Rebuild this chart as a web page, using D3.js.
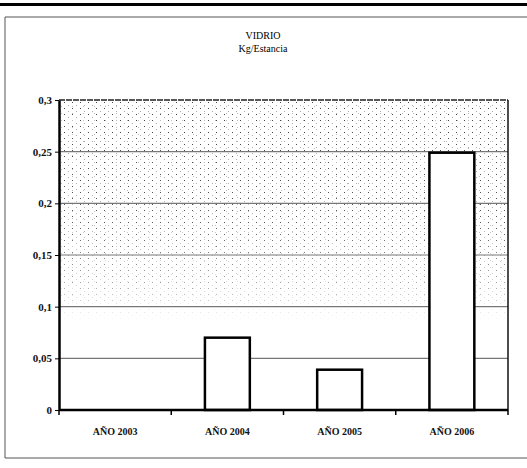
<!DOCTYPE html>
<html><head><meta charset="utf-8">
<script src="https://cdn.jsdelivr.net/npm/d3@7"></script>
<style>body{margin:0;background:#fff}svg{display:block}</style>
</head><body>
<script>
const categories = ["AÑO 2003","AÑO 2004","AÑO 2005","AÑO 2006"];
const values = [0, 0.07, 0.039, 0.249];
const yTicks = [0, 0.05, 0.1, 0.15, 0.2, 0.25, 0.3];
const yTickLabels = ["0","0,05","0,1","0,15","0,2","0,25","0,3"];
const titleLines = ["VIDRIO","Kg/Estancia"];

const W = 527, H = 468;
const m = {left:59, right:19, top:100, bottom:58};
const FONT = "'Liberation Serif', 'DejaVu Serif', serif";
const svg = d3.select("body").append("svg").attr("width",W).attr("height",H);
const defs = svg.append("defs");

// stipple pattern
const pat = defs.append("pattern").attr("id","dots").attr("patternUnits","userSpaceOnUse")
  .attr("width",8).attr("height",6);
pat.append("rect").attr("x",0).attr("y",0).attr("width",1).attr("height",1).attr("fill","#444");
pat.append("rect").attr("x",4).attr("y",3).attr("width",1).attr("height",1).attr("fill","#aaa");
const pat2 = defs.append("pattern").attr("id","dots2").attr("patternUnits","userSpaceOnUse")
  .attr("width",11).attr("height",7);
pat2.append("rect").attr("x",6).attr("y",1).attr("width",1).attr("height",1).attr("fill","#bbb");

const x = d3.scaleBand().domain(categories).range([m.left, W-m.right]).paddingInner(0.6).paddingOuter(0.3);
const y = d3.scaleLinear().domain([0,0.3]).range([H-m.bottom, m.top]);

const grad = defs.append("linearGradient").attr("id","fade").attr("gradientUnits","userSpaceOnUse")
  .attr("x1",0).attr("x2",0).attr("y1",y(0.3)).attr("y2",y(0.085));
grad.append("stop").attr("offset","0").attr("stop-color","#fff");
grad.append("stop").attr("offset","0.55").attr("stop-color","#fff").attr("stop-opacity",0.9);
grad.append("stop").attr("offset","0.85").attr("stop-color","#fff").attr("stop-opacity",0.45);
grad.append("stop").attr("offset","1").attr("stop-color","#fff").attr("stop-opacity",0);
const mask = defs.append("mask").attr("id","m");
mask.append("rect").attr("x",m.left).attr("y",y(0.3)).attr("width",W-m.right-m.left).attr("height",y(0.085)-y(0.3)).attr("fill","url(#fade)");

// page decorations (scan frame)
svg.append("rect").attr("x",0).attr("y",3).attr("width",W).attr("height",3).attr("fill","#000");
svg.append("line").attr("x1",5).attr("x2",W).attr("y1",17).attr("y2",17).attr("stroke","#555").attr("stroke-width",1);
svg.append("line").attr("x1",5).attr("x2",5).attr("y1",17).attr("y2",458).attr("stroke","#555").attr("stroke-width",1);
svg.append("line").attr("x1",5).attr("x2",W).attr("y1",458).attr("y2",458).attr("stroke","#555").attr("stroke-width",1);

// stipple
const g = svg.append("g").attr("mask","url(#m)");
g.append("rect").attr("x",m.left).attr("y",y(0.3)).attr("width",W-m.right-m.left).attr("height",y(0.085)-y(0.3)).attr("fill","url(#dots)");
g.append("rect").attr("x",m.left).attr("y",y(0.3)).attr("width",W-m.right-m.left).attr("height",y(0.085)-y(0.3)).attr("fill","url(#dots2)");

// gridlines
svg.append("g").selectAll("line").data(yTicks.filter(d=>d>0 && d<0.3)).join("line")
  .attr("x1",m.left).attr("x2",W-m.right).attr("y1",d=>y(d)).attr("y2",d=>y(d))
  .attr("stroke","#777").attr("stroke-width",1.2);

// plot frame
svg.append("line").attr("x1",m.left).attr("x2",W-m.right).attr("y1",y(0.3)).attr("y2",y(0.3)).attr("stroke","#222").attr("stroke-width",1.5).attr("stroke-dasharray","6,1");
svg.append("line").attr("x1",W-m.right).attr("x2",W-m.right).attr("y1",y(0.3)).attr("y2",y(0)).attr("stroke","#111").attr("stroke-width",1.5);

// bars
svg.append("g").selectAll("rect").data(values).join("rect")
  .attr("x",(d,i)=>x(categories[i])).attr("width",x.bandwidth())
  .attr("y",d=>y(d)).attr("height",d=>y(0)-y(d))
  .attr("fill","#fff").attr("stroke","#000").attr("stroke-width",2.5)
  .attr("display",d=>d>0?null:"none");

// axes
const yAxis = d3.axisLeft(y).tickValues(yTicks).tickFormat((d,i)=>yTickLabels[i]).tickSize(4).tickSizeOuter(0);
const ya = svg.append("g").attr("transform",`translate(${m.left},0)`).call(yAxis);
ya.select(".domain").attr("stroke","#000").attr("stroke-width",2.5);
ya.selectAll(".tick line").attr("stroke","#000");
ya.selectAll("text").attr("font-family",FONT).attr("font-size",11).attr("font-weight","bold").attr("fill","#111").attr("x",-7);

const xb = d3.scaleLinear().domain([0,4]).range([m.left, W-m.right]);
const xa = svg.append("g").attr("transform",`translate(0,${y(0)})`);
xa.append("line").attr("x1",m.left).attr("x2",W-m.right).attr("stroke","#000").attr("stroke-width",2.5);
xa.selectAll(".tk").data([0,1,2,3,4]).join("line").attr("class","tk")
  .attr("x1",d=>xb(d)).attr("x2",d=>xb(d)).attr("y1",0).attr("y2",5).attr("stroke","#000").attr("stroke-width",1.5);
xa.selectAll("text").data(categories).join("text")
  .attr("x",d=>x(d)+x.bandwidth()/2).attr("y",25).attr("text-anchor","middle")
  .attr("font-family",FONT).attr("font-size",10).attr("font-weight","bold").attr("fill","#111").text(d=>d);

// title
svg.append("g").selectAll("text").data(titleLines).join("text")
  .attr("x",263).attr("y",(d,i)=>39+i*13).attr("text-anchor","middle")
  .attr("font-family",FONT).attr("font-size",10).attr("fill","#000").text(d=>d);
</script>
</body></html>
